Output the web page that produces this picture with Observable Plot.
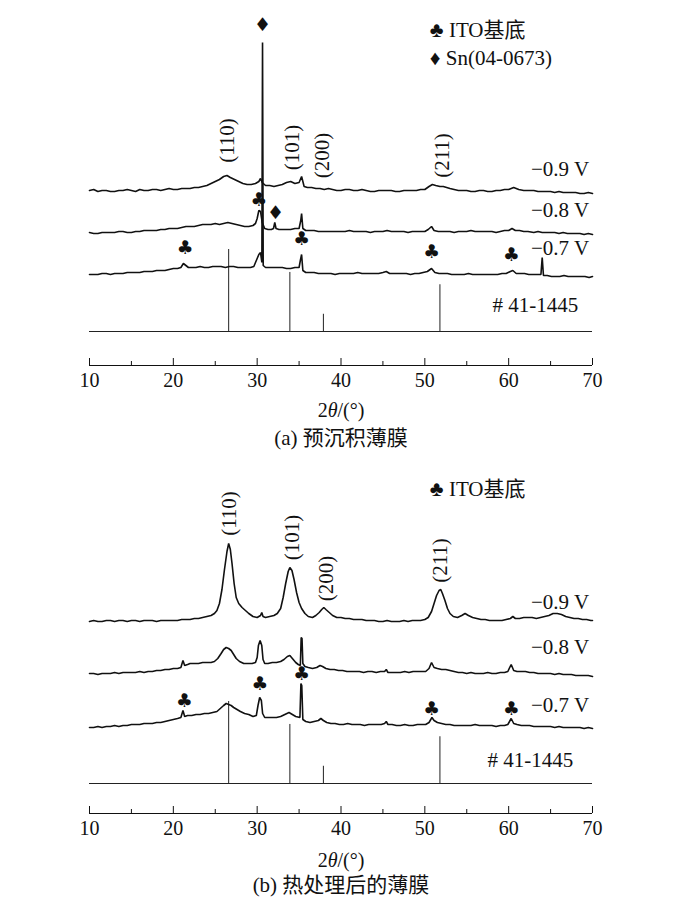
<!DOCTYPE html>
<html><head><meta charset="utf-8">
<script src="https://cdn.jsdelivr.net/npm/d3@7"></script>
<script src="https://cdn.jsdelivr.net/npm/@observablehq/plot@0.6"></script>
<style>
body{margin:0;background:#fff;}
#wrap{position:relative;width:700px;height:907px;font-family:"Liberation Serif","DejaVu Serif","Noto Sans CJK SC",serif;color:#111;}
.panel{position:absolute;left:0;}
.lab{position:absolute;left:0;width:682px;text-align:center;font-size:20px;line-height:24px;}
.cap{font-size:21px;}
</style></head><body>
<div id="wrap">
 <div class="panel" id="pa" style="top:0"></div>
 <div class="lab" style="top:398px">2<i>θ</i>/(°)</div>
 <div class="lab cap" style="top:426px">(a) 预沉积薄膜</div>
 <div class="panel" id="pb" style="top:448px"></div>
 <div class="lab" style="top:848px">2<i>θ</i>/(°)</div>
 <div class="lab cap" style="top:873px">(b) 热处理后的薄膜</div>
</div>
<script>
const FONT = '"Liberation Serif","DejaVu Serif","Noto Sans CJK SC",serif';
const majorTicks = [10,20,30,40,50,60,70];
const minorTicks = [15,25,35,45,55,65];
// SnO2 reference pattern #41-1445
const refPos = [26.6, 33.9, 37.9, 51.8];
const refInt = [100, 72, 21, 57];
const refLabel = "# 41-1445";
const seriesNames = ["−0.9 V", "−0.8 V", "−0.7 V"];
const hklNames = ["(110)", "(101)", "(200)", "(211)"];

// Panel (a) pre-deposited films: [2θ, intensity a.u.]
const a09 = [[10,0],[10.5,1],[11,-1],[11.5,0],[12,0],[12.5,-1],[13,-1],[13.5,0],[14,0],[14.5,1],[15,0],[15.5,-1],[16,1],[16.5,0],[17,0],[17.5,1],[18,1],[18.5,0],[19,1],[19.5,2],[20,1],[20.5,1],[21,2],[21.5,2],[22,2],[22.5,3],[23,3],[23.5,4],[24,5],[24.5,7],[25,9],[25.5,11],[26,14],[26.4,15],[26.8,13],[27.3,11],[27.8,9],[28.3,7],[28.8,6],[29.3,6],[29.8,7],[30.2,9],[30.4,12],[30.6,8],[31,5],[31.5,5],[32,4],[32.5,5],[33,6],[33.5,8],[34,9],[34.5,7],[35,8],[35.3,14],[35.6,4],[36,3],[36.5,3],[37,2],[37.5,2],[38,1],[38.5,2],[39,1],[39.5,0],[40,0],[40.5,1],[41,1],[41.5,0],[42,0],[42.5,1],[43,0],[43.5,-1],[44,-1],[44.5,0],[45,0],[45.5,0],[46,0],[46.5,-1],[47,-1],[47.5,0],[48,0],[48.5,0],[49,0],[49.5,1],[50,1],[50.5,4],[50.9,6],[51.3,5],[51.8,4],[52.2,4],[52.6,3],[53,2],[53.5,1],[54,0],[54.5,0],[55,0],[55.5,-1],[56,-1],[56.5,0],[57,0],[57.5,-1],[58,-1],[58.5,0],[59,0],[59.5,1],[60,1],[60.6,3],[61.2,1],[61.8,0],[62.4,0],[63,0],[63.5,-1],[64,-1],[64.5,-1],[65,-1],[65.5,-2],[66,-1],[66.5,-2],[67,-2],[67.5,-2],[68,-2],[68.5,-3],[69,-3],[69.5,-2],[70,-3]];
const a08 = [[10,0],[10.5,-1],[11,-1],[11.5,0],[12,0],[12.5,0],[13,0],[13.5,1],[14,1],[14.5,0],[15,0],[15.5,1],[16,1],[16.5,2],[17,2],[17.5,2],[18,2],[18.5,3],[19,3],[19.5,4],[20,4],[20.5,4],[21,5],[21.5,6],[22,6],[22.5,6],[23,7],[23.5,8],[24,8],[24.5,8],[25,9],[25.5,8],[26,9],[26.5,10],[27,9],[27.5,8],[28,7],[28.5,6],[29,6],[29.5,7],[29.8,9],[30.0,14],[30.2,22],[30.4,21],[30.6,10],[30.9,4],[31.3,3],[31.7,3],[31.95,4],[32.1,10],[32.25,4],[32.6,3],[33,3],[33.5,3],[34,3],[34.5,4],[35,4],[35.2,12],[35.3,19],[35.45,4],[35.8,2],[36.3,2],[36.8,2],[37.3,1],[37.8,1],[38.3,1],[38.8,1],[39.3,1],[39.8,1],[40.5,1],[41,2],[41.5,1],[42,1],[42.5,1],[43,1],[43.5,0],[44,1],[44.5,1],[45,1],[45.5,2],[46,1],[46.5,1],[47,1],[47.5,1],[48,0],[48.5,1],[49,1],[49.5,1],[50,1],[50.4,3],[50.8,6],[51.1,2],[51.6,1],[52,1],[52.5,1],[53,1],[53.5,0],[54,1],[54.5,1],[55,1],[55.5,2],[56,1],[56.5,1],[57,1],[57.5,1],[58,1],[58.5,0],[59,1],[59.5,2],[60,2],[60.4,4],[60.8,2],[61.3,2],[61.8,1],[62.3,1],[63,0],[63.5,1],[64,0],[64.5,0],[65,0],[65.5,0],[66,-1],[66.5,0],[67,-1],[67.5,-1],[68,-1],[68.5,-1],[69,-2],[69.5,-1],[70,-2]];
const a07 = [[10,0],[10.5,0],[11,0],[11.5,1],[12,1],[12.5,0],[13,1],[13.5,1],[14,1],[14.5,2],[15,2],[15.5,2],[16,2],[16.5,3],[17,3],[17.5,3],[18,4],[18.5,4],[19,4],[19.5,5],[20,6],[20.5,6],[20.9,7],[21.2,11],[21.5,9],[21.8,7],[22.2,7],[22.7,7],[23.2,8],[23.7,7],[24.2,7],[24.7,8],[25.2,8],[25.7,8],[26.2,7],[26.7,8],[27.2,8],[27.7,7],[28.2,7],[28.7,7],[29.2,7],[29.6,8],[29.9,14],[30.2,20],[30.4,22],[30.56,12],[30.64,232],[30.72,9],[31,7],[31.5,7],[32,7],[32.5,7],[33,7],[33.5,6],[34,6],[34.5,7],[35,7],[35.15,14],[35.3,20],[35.45,4],[35.8,2],[36.3,2],[36.8,2],[37.3,1],[37.8,1],[38.3,1],[38.8,1],[39.3,0],[39.8,1],[40.5,1],[41,1],[41.5,1],[42,2],[42.5,1],[43,1],[43.5,1],[44,1],[44.5,1],[45,2],[45.4,3],[45.8,1],[46.3,1],[46.8,1],[47.3,1],[47.8,1],[48.3,0],[48.8,1],[49.3,1],[49.8,2],[50.3,3],[50.8,6],[51.2,2],[51.7,1],[52.2,1],[52.7,1],[53.2,0],[53.7,0],[54.2,0],[54.7,0],[55.2,1],[55.7,0],[56.2,0],[56.7,0],[57.2,0],[57.7,0],[58.2,0],[58.7,0],[59.2,1],[59.7,1],[60.2,3],[60.5,4],[60.9,1],[61.4,1],[61.9,1],[62.4,0],[62.9,0],[63.4,0],[63.85,0],[64.0,17],[64.15,-1],[64.6,-1],[65.1,-2],[65.6,-2],[66.1,-2],[66.6,-1],[67.1,-2],[67.6,-2],[68.1,-2],[68.6,-2],[69.1,-2],[69.6,-3],[70,-2]];
const offsetsA = [175, 133, 91];

// Panel (b) annealed films
const b09 = [[10,0],[10.5,1],[11,0],[11.5,0],[12,1],[12.5,1],[13,0],[13.5,1],[14,1],[14.5,0],[15,1],[15.5,1],[16,0],[16.5,1],[17,1],[17.5,1],[18,0],[18.5,1],[19,1],[19.5,1],[20,1],[20.5,1],[21,2],[21.5,2],[22,2],[22.5,3],[23,3],[23.5,4],[24,5],[24.5,6],[24.9,8],[25.2,11],[25.5,18],[25.8,32],[26.1,52],[26.4,70],[26.6,78],[26.8,72],[27.0,58],[27.25,38],[27.5,24],[27.8,18],[28.2,14],[28.6,11],[29,8],[29.5,5],[30,4],[30.4,6],[30.55,9],[30.7,5],[31,4],[31.5,5],[32,6],[32.4,8],[32.8,13],[33.1,24],[33.4,38],[33.7,50],[33.9,54],[34.15,51],[34.4,42],[34.7,29],[35,19],[35.3,13],[35.7,8],[36.1,5],[36.6,4],[37,6],[37.4,9],[37.7,12],[37.95,14],[38.2,12],[38.6,9],[39,6],[39.5,4],[40,4],[40.5,3],[41,3],[41.5,2],[42,2],[42.5,2],[43,1],[43.5,1],[44,1],[44.5,0],[45,0],[45.5,1],[46,0],[46.5,0],[47,0],[47.5,1],[48,0],[48.5,1],[49,1],[49.5,1],[50,2],[50.4,4],[50.8,10],[51.1,18],[51.4,26],[51.7,31],[51.9,32],[52.1,28],[52.4,21],[52.7,13],[53,8],[53.4,5],[53.9,4],[54.4,6],[54.8,8],[55.2,6],[55.7,4],[56.2,3],[56.7,2],[57.2,2],[57.7,1],[58.2,1],[58.7,1],[59.2,1],[59.7,2],[60.2,3],[60.5,5],[60.8,3],[61.3,3],[61.8,4],[62.3,4],[62.8,4],[63.3,3],[63.8,4],[64.3,5],[64.8,6],[65.3,8],[65.8,8],[66.3,7],[66.8,5],[67.3,4],[67.8,3],[68.3,3],[68.8,2],[69.3,2],[69.8,1],[70,1]];
const b08 = [[10,0],[10.5,0],[11,-1],[11.5,0],[12,0],[12.5,0],[13,1],[13.5,0],[14,1],[14.5,1],[15,1],[15.5,1],[16,2],[16.5,1],[17,2],[17.5,2],[18,3],[18.5,3],[19,4],[19.5,4],[20,5],[20.5,5],[20.9,6],[21.15,13],[21.35,8],[21.7,9],[22,10],[22.5,10],[23,10],[23.5,11],[24,11],[24.5,11],[24.9,12],[25.3,15],[25.7,20],[26,24],[26.3,26],[26.6,25],[26.9,23],[27.2,19],[27.5,15],[27.9,12],[28.4,10],[28.9,10],[29.4,10],[29.8,11],[30.0,16],[30.15,28],[30.35,33],[30.55,28],[30.7,14],[30.9,10],[31.3,10],[31.8,11],[32.3,11],[32.8,12],[33.2,14],[33.6,17],[33.9,18],[34.2,15],[34.6,11],[34.9,9],[35.15,8],[35.25,36],[35.35,35],[35.45,10],[35.7,7],[36.1,6],[36.6,5],[37.1,6],[37.5,8],[37.8,7],[38.2,5],[38.7,4],[39.2,4],[39.7,3],[40.2,3],[40.7,2],[41.2,2],[41.7,2],[42.2,2],[42.7,1],[43.2,2],[43.7,2],[44.2,1],[44.7,2],[45.2,2],[45.4,4],[45.6,1],[46.1,1],[46.6,1],[47.1,1],[47.6,2],[48.1,1],[48.6,2],[49.1,2],[49.6,2],[50.1,2],[50.5,5],[50.8,11],[51.1,6],[51.5,5],[52,4],[52.5,4],[53,3],[53.5,2],[54,1],[54.5,1],[55,0],[55.5,1],[56,0],[56.5,0],[57,0],[57.5,1],[58,0],[58.5,0],[59,1],[59.5,1],[59.9,2],[60.3,9],[60.6,3],[61,2],[61.5,2],[62,2],[62.5,1],[63,1],[63.5,0],[64,0],[64.5,0],[65,0],[65.5,-1],[66,0],[66.5,-1],[67,-1],[67.5,-1],[68,-2],[68.5,-2],[69,-2],[69.5,-2],[70,-3]];
const b07 = [[10,0],[10.5,0],[11,1],[11.5,0],[12,1],[12.5,1],[13,2],[13.5,1],[14,2],[14.5,2],[15,3],[15.5,3],[16,3],[16.5,4],[17,4],[17.5,4],[18,5],[18.5,5],[19,6],[19.5,7],[20,8],[20.5,9],[20.9,10],[21.15,17],[21.35,11],[21.7,12],[22.2,12],[22.7,13],[23.2,13],[23.7,14],[24.2,14],[24.7,15],[25.2,16],[25.6,19],[26,22],[26.3,24],[26.6,23],[26.9,22],[27.2,20],[27.6,18],[28,16],[28.5,14],[29,13],[29.5,11],[29.9,12],[30.1,22],[30.3,30],[30.5,27],[30.65,14],[30.9,10],[31.3,10],[31.8,10],[32.3,10],[32.8,11],[33.3,13],[33.8,15],[34.2,13],[34.6,11],[35.1,10],[35.22,44],[35.32,42],[35.45,8],[35.8,6],[36.3,5],[36.8,6],[37.3,7],[37.6,9],[37.9,7],[38.3,5],[38.8,4],[39.3,4],[39.8,3],[40.3,3],[40.8,4],[41.3,3],[41.8,3],[42.3,3],[42.8,2],[43.3,3],[43.8,3],[44.3,3],[44.8,3],[45.2,4],[45.4,6],[45.6,3],[46.1,3],[46.6,2],[47.1,2],[47.6,3],[48.1,2],[48.6,2],[49.1,3],[49.6,3],[50.1,3],[50.5,5],[50.85,10],[51.1,7],[51.5,5],[52,4],[52.5,3],[53,3],[53.5,2],[54,2],[54.5,2],[55,2],[55.5,2],[56,3],[56.5,2],[57,2],[57.5,2],[58,2],[58.5,1],[59,2],[59.5,2],[59.9,3],[60.3,9],[60.6,4],[61,3],[61.5,2],[62,2],[62.5,2],[63,1],[63.5,1],[64,1],[64.5,1],[65,1],[65.5,0],[66,1],[66.5,0],[67,0],[67.5,0],[68,0],[68.5,0],[69,-1],[69.5,0],[70,-1]];
const offsetsB = [192, 140, 86];

// annotation anchors (2θ, a.u.)
const hklXA = [26.4, 34.2, 37.8, 52.1], hklYA = [225, 218, 210, 210];
const hklXB = [26.7, 34.2, 38.3, 51.9], hklYB = [300, 276, 235, 253];
const nameYA = [196, 155, 117], nameYB = [211, 166, 108];
const markSymA = ["♦","♣","♣","♦","♣","♣","♣"];
const markXA = [30.64, 21.4, 30.2, 32.2, 35.3, 50.8, 60.3];
const markYA = [341, 118, 166, 153, 127, 114, 111];
const markSymB = ["♣","♣","♣","♣","♣"];
const markXB = [21.3, 30.3, 35.3, 50.8, 60.3];
const markYB = [113, 130, 140, 105, 105];
const legendA = ["♣ ITO基底", "♦ Sn(04-0673)"], legendYA = [335, 307];
const legendB = ["♣ ITO基底"], legendYB = [324];
const legendX = 50.6;

function drawPanel(p) {
  const rows = [];
  p.curves.forEach((c, i) => c.forEach(([x, v]) => rows.push({s: i, x, y: v + p.offsets[i]})));
  const refs = refPos.map((x, i) => ({x, y: p.refBase + refInt[i] * 0.82}));
  const hkl = hklNames.map((t, i) => ({t, x: p.hklX[i], y: p.hklY[i]}));
  const names = seriesNames.map((t, i) => ({t, y: p.nameY[i]}));
  const marks = p.markSym.map((t, i) => ({t, x: p.markX[i], y: p.markY[i]}));
  const leg = p.legend.map((t, i) => ({t, y: p.legendY[i]}));
  return Plot.plot({
    width: 700, height: 395, marginLeft: 89, marginRight: 108, marginTop: 0, marginBottom: 30,
    x: {domain: [10, 70]},
    y: {domain: [0, 365], axis: null},
    style: {fontFamily: FONT, fontSize: "20px", color: "#111", background: "transparent", overflow: "visible"},
    marks: [
      Plot.ruleY([p.refBase], {stroke: "#222", strokeWidth: 1}),
      Plot.ruleX(refs, {x: "x", y1: p.refBase, y2: "y", stroke: "#222", strokeWidth: 1}),
      Plot.line(rows, {x: "x", y: "y", z: "s", stroke: "#111", strokeWidth: 1.6, strokeLinejoin: "miter"}),
      Plot.ruleY([0], {stroke: "#111", strokeWidth: 1}),
      Plot.ruleX(majorTicks, {x: d => d, y1: 0, y2: 7, stroke: "#111"}),
      Plot.ruleX(minorTicks, {x: d => d, y1: 0, y2: 4, stroke: "#111"}),
      Plot.axisX({ticks: majorTicks, tickSize: 0, tickPadding: 7, label: null, tickFormat: d => String(d), fontSize: 20}),
      Plot.text(hkl, {x: "x", y: "y", text: "t", rotate: -90, fontSize: 21, fill: "#111"}),
      Plot.text(names, {x: 69.6, y: "y", text: "t", textAnchor: "end", fontSize: 21, fill: "#111"}),
      Plot.text([refLabel], {x: p.refLabelX, y: p.refLabelY, text: d => d, textAnchor: "end", fontSize: 21, fill: "#111"}),
      Plot.text(marks, {x: "x", y: "y", text: "t", fontSize: 19, fill: "#111", fontFamily: "DejaVu Sans"}),
      Plot.text(leg, {x: legendX, y: "y", text: "t", textAnchor: "start", fontSize: 21, fill: "#111"})
    ]
  });
}

document.getElementById("pa").append(drawPanel({
  curves: [a09, a08, a07], offsets: offsetsA, refBase: 34,
  hklX: hklXA, hklY: hklYA, nameY: nameYA,
  markSym: markSymA, markX: markXA, markY: markYA,
  legend: legendA, legendY: legendYA, refLabelX: 68.3, refLabelY: 60
}));
document.getElementById("pb").append(drawPanel({
  curves: [b09, b08, b07], offsets: offsetsB, refBase: 30,
  hklX: hklXB, hklY: hklYB, nameY: nameYB,
  markSym: markSymB, markX: markXB, markY: markYB,
  legend: legendB, legendY: legendYB, refLabelX: 67.7, refLabelY: 53
}));
</script>
</body></html>
